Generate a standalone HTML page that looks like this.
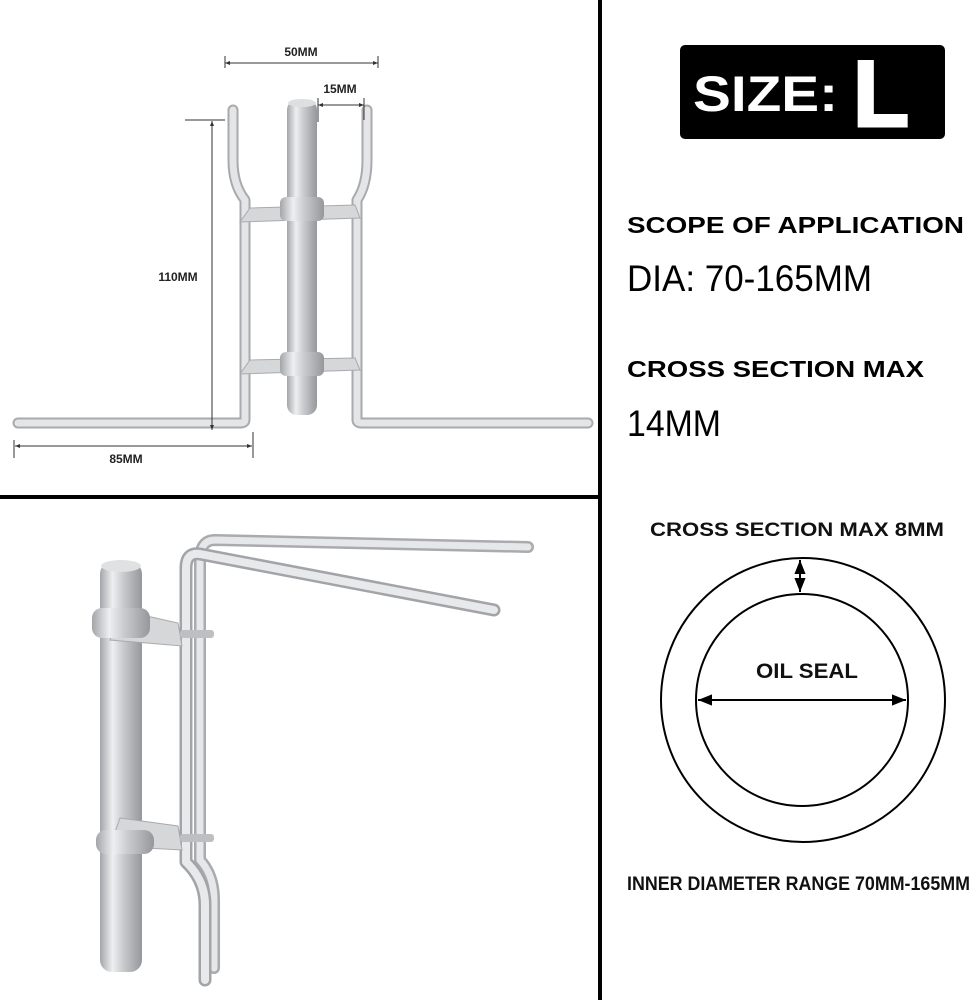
<!DOCTYPE html>
<html><head><meta charset="utf-8"><style>
html,body{margin:0;padding:0;background:#fff;}
svg{display:block;}
text{font-family:"Liberation Sans",Arial,sans-serif;}
</style></head><body>
<svg width="972" height="1000" viewBox="0 0 972 1000" xmlns="http://www.w3.org/2000/svg">
<defs>
<linearGradient id="gv" x1="0" x2="1" y1="0" y2="0">
<stop offset="0" stop-color="#a3a5a9"/><stop offset="0.3" stop-color="#eeeff0"/><stop offset="0.55" stop-color="#c9cbce"/><stop offset="1" stop-color="#95979b"/></linearGradient>
<marker id="a" viewBox="0 0 10 10" refX="10" refY="5" markerWidth="7" markerHeight="7" orient="auto-start-reverse"><path d="M0,1 L10,5 L0,9 z" fill="#000"/></marker>
<marker id="s" viewBox="0 0 10 10" refX="10" refY="5" markerWidth="5" markerHeight="5" orient="auto-start-reverse"><path d="M0,1 L10,5 L0,9 z" fill="#333"/></marker>
</defs>
<rect width="972" height="1000" fill="#fff"/>
<rect x="598" y="0" width="4" height="1000" fill="#000"/>
<rect x="0" y="495" width="600" height="4" fill="#000"/>

<!-- TOP-LEFT TOOL -->
<g fill="none" stroke-linecap="round" stroke-linejoin="round">
<path d="M233,110 L233,160 Q233,185 245,200 L245,420 Q245,423 240,423 L18,423" stroke="#a8aaae" stroke-width="11"/>
<path d="M233,110 L233,160 Q233,185 245,200 L245,420 Q245,423 240,423 L18,423" stroke="#e4e5e7" stroke-width="7"/>
<path d="M367,110 L367,160 Q367,185 357,200 L357,420 Q357,423 362,423 L588,423" stroke="#a8aaae" stroke-width="11"/>
<path d="M367,110 L367,160 Q367,185 357,200 L357,420 Q357,423 362,423 L588,423" stroke="#e4e5e7" stroke-width="7"/>
</g>
<rect x="287" y="100" width="30" height="315" rx="10" fill="url(#gv)"/>
<ellipse cx="302" cy="103" rx="14" ry="4" fill="#dedfe1"/>
<path d="M250,208 L355,205 L360,218 L240,222 z" fill="#d6d7d9" stroke="#a8aaae"/>
<rect x="280" y="197" width="44" height="24" rx="6" fill="url(#gv)"/>
<path d="M250,360 L355,358 L360,370 L240,374 z" fill="#d6d7d9" stroke="#a8aaae"/>
<rect x="280" y="352" width="44" height="24" rx="6" fill="url(#gv)"/>
<g stroke="#333" stroke-width="1" fill="none">
<line x1="225" y1="63" x2="378" y2="63" marker-start="url(#s)" marker-end="url(#s)"/>
<line x1="225" y1="56" x2="225" y2="68"/><line x1="378" y1="56" x2="378" y2="68"/>
<line x1="318" y1="105" x2="364" y2="105" marker-start="url(#s)" marker-end="url(#s)"/>
<line x1="318" y1="98" x2="318" y2="122"/><line x1="364" y1="98" x2="364" y2="120"/>
<line x1="212" y1="121" x2="212" y2="430" marker-start="url(#s)" marker-end="url(#s)"/>
<line x1="185" y1="120" x2="225" y2="120"/>
<line x1="15" y1="446" x2="252" y2="446" marker-start="url(#s)" marker-end="url(#s)"/>
<line x1="14" y1="440" x2="14" y2="458"/><line x1="253" y1="432" x2="253" y2="458"/>
</g>
<g font-size="12" font-weight="bold" fill="#222">
<text x="301" y="56" text-anchor="middle">50MM</text>
<text x="340" y="93" text-anchor="middle">15MM</text>
<text x="178" y="281" text-anchor="middle">110MM</text>
<text x="126" y="463" text-anchor="middle">85MM</text>
</g>

<!-- BOTTOM-LEFT TOOL -->
<g fill="none" stroke-linecap="round" stroke-linejoin="round">
<path d="M214,968 L214,900 Q214,875 200,860 L200,560 Q200,540 215,540 L528,547" stroke="#a9abaf" stroke-width="12"/>
<path d="M214,968 L214,900 Q214,875 200,860 L200,560 Q200,540 215,540 L528,547" stroke="#e6e7e9" stroke-width="7"/>
<path d="M205,980 L205,905 Q205,880 186,862 L186,568 Q186,552 200,554 L494,610" stroke="#a2a4a8" stroke-width="13"/>
<path d="M205,980 L205,905 Q205,880 186,862 L186,568 Q186,552 200,554 L494,610" stroke="#e8e9eb" stroke-width="8"/>
</g>
<rect x="100" y="562" width="42" height="410" rx="12" fill="url(#gv)"/>
<ellipse cx="121" cy="566" rx="20" ry="6" fill="#e0e1e3"/>
<path d="M120,610 L178,623 L182,646 L110,640 z" fill="#d6d7d9" stroke="#a8aaae"/>
<rect x="92" y="608" width="58" height="30" rx="10" fill="url(#gv)"/>
<path d="M120,818 L178,826 L182,850 L110,846 z" fill="#d6d7d9" stroke="#a8aaae"/>
<rect x="96" y="830" width="58" height="24" rx="10" fill="url(#gv)"/>
<rect x="180" y="630" width="34" height="8" rx="3" fill="#bdbfc2"/>
<rect x="180" y="834" width="34" height="8" rx="3" fill="#bdbfc2"/>

<rect x="680" y="45" width="265" height="94" rx="5" fill="#000"/>
<text x="693" y="111" font-size="50" font-weight="bold" fill="#fff" textLength="145" lengthAdjust="spacingAndGlyphs">SIZE:</text>
<text x="853" y="126" font-size="94" font-weight="bold" fill="#fff" stroke="#fff" stroke-width="3" textLength="56" lengthAdjust="spacingAndGlyphs">L</text>

<text x="627" y="233" font-size="23" font-weight="bold" fill="#000" textLength="337" lengthAdjust="spacingAndGlyphs">SCOPE OF APPLICATION</text>
<text x="627" y="291" font-size="37" fill="#000" textLength="245" lengthAdjust="spacingAndGlyphs">DIA: 70-165MM</text>
<text x="627" y="377" font-size="23" font-weight="bold" fill="#000" textLength="297" lengthAdjust="spacingAndGlyphs">CROSS SECTION MAX</text>
<text x="627" y="436" font-size="37" fill="#000" textLength="94" lengthAdjust="spacingAndGlyphs">14MM</text>

<text x="650" y="536" font-size="19" font-weight="bold" fill="#111" textLength="294" lengthAdjust="spacingAndGlyphs">CROSS SECTION MAX 8MM</text>
<circle cx="803" cy="700" r="142" fill="none" stroke="#000" stroke-width="2"/>
<circle cx="802" cy="700" r="106" fill="none" stroke="#000" stroke-width="2"/>
<line x1="800" y1="560" x2="800" y2="592" stroke="#000" stroke-width="2" marker-start="url(#a)" marker-end="url(#a)"/>
<line x1="698" y1="700" x2="906" y2="700" stroke="#000" stroke-width="2" marker-start="url(#a)" marker-end="url(#a)"/>
<text x="756" y="678" font-size="21" font-weight="bold" fill="#111" textLength="102" lengthAdjust="spacingAndGlyphs">OIL SEAL</text>
<text x="627" y="890" font-size="19" font-weight="bold" fill="#111" textLength="343" lengthAdjust="spacingAndGlyphs">INNER DIAMETER RANGE 70MM-165MM</text>
</svg>
</body></html>
